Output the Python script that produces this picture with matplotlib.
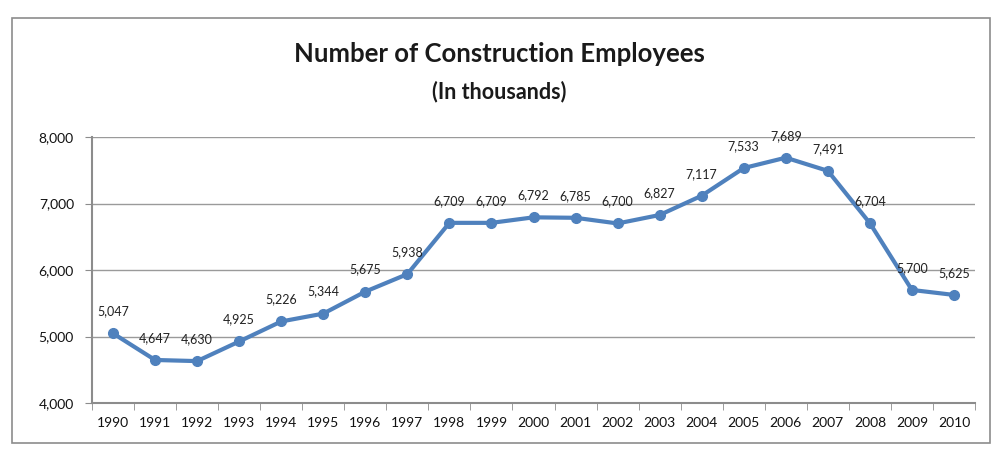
import matplotlib
matplotlib.use("Agg")
import matplotlib.pyplot as plt
from matplotlib.patches import Rectangle
from matplotlib.ticker import FuncFormatter, FixedLocator

years = [str(y) for y in range(1990, 2011)]
employees = [5047, 4647, 4630, 4925, 5226, 5344, 5675, 5938, 6709, 6709, 6792,
             6785, 6700, 6827, 7117, 7533, 7689, 7491, 6704, 5700, 5625]
title = "Number of Construction Employees"
subtitle = "(In thousands)"

plt.rcParams['font.family'] = ['Lato', 'DejaVu Sans']

fig = plt.figure(figsize=(9.99, 4.51), dpi=100)
W, H = 999, 451
fig.patches.append(Rectangle((12 / W, 1 - 443 / H), (990 - 12) / W, (443 - 18) / H,
                             transform=fig.transFigure, fill=False,
                             edgecolor='#8c8c8c', linewidth=1.2))

ax = fig.add_axes([92 / W, 1 - 403 / H, (975 - 92) / W, (403 - 137) / H])
x = list(range(len(years)))
ax.plot(x, employees, color='#4F81BD', linewidth=3, marker='o', markersize=7,
        zorder=3)
for xi, v in zip(x, employees):
    ax.annotate(f"{v:,}", (xi, v), xytext=(0, 16), textcoords='offset pixels',
                ha='center', va='bottom', fontsize=9, color='#222222')

ax.set_xlim(-0.5, len(years) - 0.5)
ax.set_ylim(4000, 8000)
ax.set_yticks([4000, 5000, 6000, 7000, 8000])
ax.yaxis.set_major_formatter(FuncFormatter(lambda v, p: f"{int(v):,}"))
ax.set_xticks(x)
ax.set_xticklabels(years)
ax.xaxis.set_minor_locator(FixedLocator([i - 0.5 for i in range(len(years) + 1)]))
ax.tick_params(axis='x', which='major', length=0, labelsize=10, pad=10,
               labelcolor='#111111')
ax.tick_params(axis='x', which='minor', length=5, color='#8c8c8c', direction='out')
ax.tick_params(axis='y', length=5, color='#8c8c8c', labelsize=10, pad=8,
               labelcolor='#111111')
ax.grid(axis='y', color='#9a9a9a', linewidth=1)
ax.set_axisbelow(True)
for s in ['top', 'right']:
    ax.spines[s].set_visible(False)
for s in ['left', 'bottom']:
    ax.spines[s].set_color('#8c8c8c')
    ax.spines[s].set_linewidth(1.5)

fig.text(0.5, 1 - 54 / H, title, ha='center', va='center', fontsize=18.5,
         fontweight='bold', color='#1a1a1a')
fig.text(0.5, 1 - 92 / H, subtitle, ha='center', va='center', fontsize=15.5,
         fontweight='bold', color='#1a1a1a')

fig.savefig("out.png", dpi=100)
